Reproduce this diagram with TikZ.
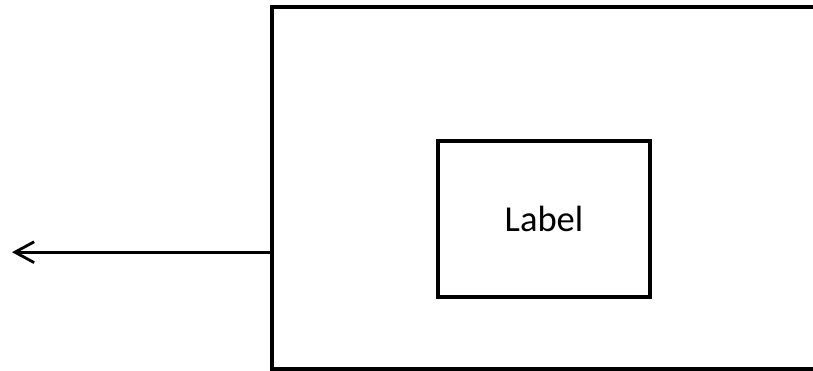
\documentclass[tikz,border=0pt]{standalone}
\usepackage{fontspec}
\setmainfont{Carlito}
\usetikzlibrary{positioning, arrows.meta}

\begin{document}
\begin{tikzpicture}[
    frame/.style={line width=2.6pt, line join=miter},
    block/.style={rectangle, draw, line width=2.6pt, minimum width=5.3cm, minimum height=3.9cm, text centered, font=\fontsize{26}{31}\selectfont},
    arrow/.style={-{Straight Barb[length=4.8mm, width=5.2mm, line width=2pt]}, line width=1.9pt}
    ]
    \useasboundingbox (0,0) rectangle (20.325,9.275);

    % Marco exterior (abierto a la derecha)
    \draw[frame] (20.4,9.1) -- (6.8,9.1) -- (6.8,0.05) -- (20.4,0.05);
    \coordinate (FrameLeft) at (6.8,2.97);
    \coordinate (Exit) at (0.3,2.97);

    % Bloque interior
    \node[block] (Label) at (13.6,3.8) {Label};

    % Salida
    \draw[arrow] (FrameLeft) -- (Exit);

\end{tikzpicture}
\end{document}
